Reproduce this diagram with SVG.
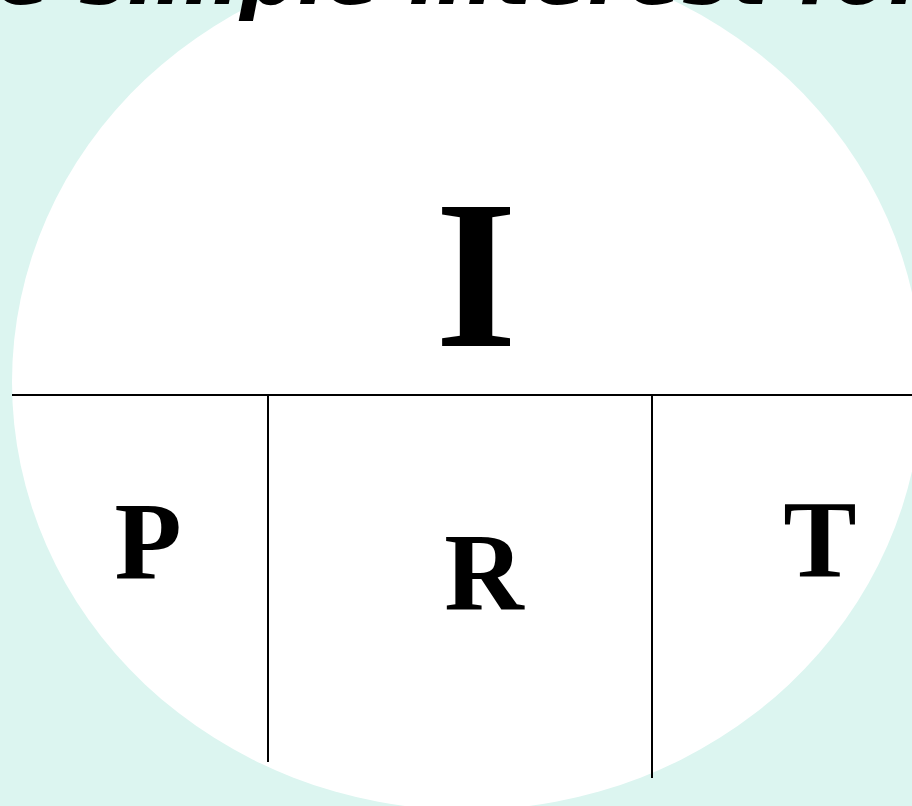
<svg xmlns="http://www.w3.org/2000/svg" width="912" height="806" viewBox="0 0 912 806">
  <style>
    .title { font-family: "DejaVu Sans", sans-serif; font-weight: bold; font-style: italic; font-size: 81px; fill: #000; }
    .big { font-family: "Liberation Serif", "Times New Roman", serif; font-weight: bold; fill: #000; text-anchor: middle; }
    .rule { stroke: #000; stroke-width: 2; fill: none; }
  </style>
  <rect x="0" y="0" width="912" height="806" fill="#DCF5F0"/>
  <g id="circle">
    <ellipse cx="467" cy="382" rx="455" ry="428" fill="#FFFFFF"/>
  </g>
  <g id="title">
    <text class="title" x="-4" y="4">e simple interest for</text>
  </g>
  <g id="connectors">
    <line class="rule" x1="12" y1="395" x2="912" y2="395"/>
    <line class="rule" x1="268" y1="395" x2="268" y2="762"/>
    <line class="rule" x1="652" y1="395" x2="652" y2="778"/>
  </g>
  <g id="node-I">
    <text class="big" x="476" y="346" font-size="211">I</text>
  </g>
  <g id="node-P">
    <text class="big" x="148" y="578" font-size="110">P</text>
  </g>
  <g id="node-R">
    <text class="big" x="484" y="610" font-size="110">R</text>
  </g>
  <g id="node-T">
    <text class="big" x="820" y="577" font-size="110">T</text>
  </g>
</svg>
